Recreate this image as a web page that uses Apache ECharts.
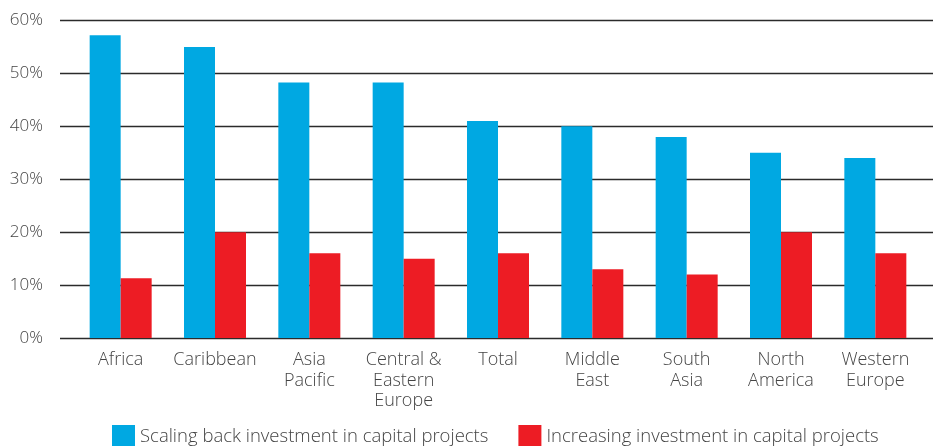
<!DOCTYPE html>
<html><head><meta charset="utf-8">
<script src="https://cdn.jsdelivr.net/npm/echarts@6/dist/echarts.min.js"></script>
<style>html,body{margin:0;padding:0;background:#fff}#c{width:941px;height:446px}</style>
</head><body><div id="c"></div>
<script>
const categories = ['Africa','Caribbean','Asia\nPacific','Central &\nEastern\nEurope','Total','Middle\nEast','South\nAsia','North\nAmerica','Western\nEurope'];
const scalingBack = [57.2, 55, 48.3, 48.3, 41, 40, 38, 35, 34];
const increasing = [11.3, 20, 16, 15, 16, 13, 12, 20, 16];
const yTicks = [0, 10, 20, 30, 40, 50, 60];
const seriesNames = ['Scaling back investment in capital projects','Increasing investment in capital projects'];

const font = '"Open Sans", sans-serif';
const chart = echarts.init(document.getElementById('c'));
chart.setOption({
  animation: false,
  textStyle: { fontFamily: font },
  legend: {
    left: 107, top: 420, itemWidth: 23, itemHeight: 23, itemGap: 30,
    icon: 'rect',
    textStyle: { fontSize: 18.5, lineHeight: 23, color: '#444', fontFamily: font, fontWeight: 300, padding: [0,0,0,0] },
    data: seriesNames
  },
  grid: [
    { left: 60, right: 8, top: 20.5, height: 317.5 },
    { left: 73.5, right: 18.5, top: 20.5, height: 317.5 }
  ],
  xAxis: [
    { type: 'value', gridIndex: 0, show: false, min: 0, max: 1 },
    { type: 'category', gridIndex: 1, data: categories,
      axisLine: { show: false }, axisTick: { show: false },
      axisLabel: { interval: 0, margin: 12, fontSize: 18, color: '#444', lineHeight: 20.5, fontFamily: font, fontWeight: 300 } }
  ],
  yAxis: [
    { type: 'value', gridIndex: 0, min: 0, max: 60, interval: 10,
      axisLine: { show: false }, axisTick: { show: false },
      axisLabel: { margin: 17, fontSize: 17, color: '#444', fontFamily: font, fontWeight: 300,
        formatter: v => yTicks.includes(v) ? v + '%' : '' },
      splitLine: { lineStyle: { color: '#2b2b2b', width: 1.3 } } },
    { type: 'value', gridIndex: 1, min: 0, max: 60, interval: 10, show: false, splitLine: { show: false } }
  ],
  series: [
    { name: seriesNames[0], type: 'bar', xAxisIndex: 1, yAxisIndex: 1, data: scalingBack,
      barWidth: 31, barGap: '0%', itemStyle: { color: '#00A8E2' } },
    { name: seriesNames[1], type: 'bar', xAxisIndex: 1, yAxisIndex: 1, data: increasing,
      barWidth: 31, barGap: '0%', itemStyle: { color: '#ED1C24' } }
  ]
});
</script></body></html>
